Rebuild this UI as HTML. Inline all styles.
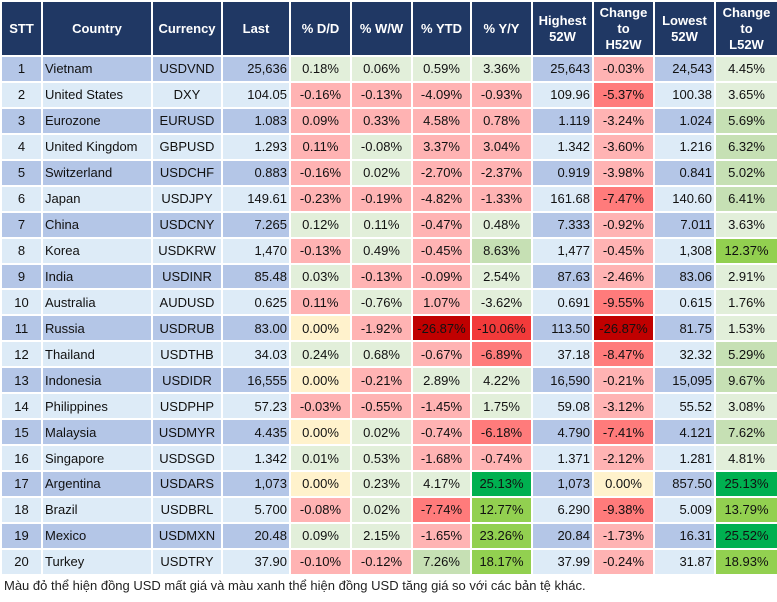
<!DOCTYPE html>
<html><head><meta charset="utf-8"><style>
body{margin:0;background:#fff;width:777px;height:602px;overflow:hidden;font-family:"Liberation Sans",Arial,sans-serif;}
table{position:absolute;left:0;top:0;border-collapse:collapse;table-layout:fixed;width:777px;}
td,th{border:2px solid #fff;padding:0 2px;font-size:13px;color:#111;white-space:nowrap;overflow:hidden;}
th{background:#203864;color:#fff;font-weight:bold;height:53px;line-height:16px;text-align:center;}
td{height:23.95px;}
tr.o td{background:#B4C6E7}tr.e td{background:#DDEBF7}
td.c{text-align:center}td.r{text-align:right}td.l{text-align:left}
tr td.g{background:#E2EFDA}tr td.x{background:#FFB3B3}tr td.R{background:#FF7B7B}tr td.m{background:#C6E0B4}
tr td.G{background:#92D050}tr td.D{background:#00B050}tr td.y{background:#FFF2CC}tr td.X{background:#C00000}tr td.Z{background:#F23A3A}
td.p{text-align:center}
.foot{position:absolute;left:4px;top:578px;font-size:13px;color:#222;}
</style></head><body>
<table>
<colgroup><col style="width:41px"><col style="width:110px"><col style="width:70px"><col style="width:68px"><col style="width:61px"><col style="width:61px"><col style="width:59px"><col style="width:61px"><col style="width:61px"><col style="width:61px"><col style="width:61px"><col style="width:63px"></colgroup>
<tr><th>STT</th><th>Country</th><th>Currency</th><th>Last</th><th>% D/D</th><th>% W/W</th><th>% YTD</th><th>% Y/Y</th><th>Highest<br>52W</th><th>Change<br>to<br>H52W</th><th>Lowest<br>52W</th><th>Change<br>to<br>L52W</th></tr>
<tr class="o"><td class="c">1</td><td class="l">Vietnam</td><td class="c">USDVND</td><td class="r">25,636</td><td class="p g">0.18%</td><td class="p g">0.06%</td><td class="p g">0.59%</td><td class="p g">3.36%</td><td class="r">25,643</td><td class="p x">-0.03%</td><td class="r">24,543</td><td class="p g">4.45%</td></tr>
<tr class="e"><td class="c">2</td><td class="l">United States</td><td class="c">DXY</td><td class="r">104.05</td><td class="p x">-0.16%</td><td class="p x">-0.13%</td><td class="p x">-4.09%</td><td class="p x">-0.93%</td><td class="r">109.96</td><td class="p R">-5.37%</td><td class="r">100.38</td><td class="p g">3.65%</td></tr>
<tr class="o"><td class="c">3</td><td class="l">Eurozone</td><td class="c">EURUSD</td><td class="r">1.083</td><td class="p x">0.09%</td><td class="p x">0.33%</td><td class="p x">4.58%</td><td class="p x">0.78%</td><td class="r">1.119</td><td class="p x">-3.24%</td><td class="r">1.024</td><td class="p m">5.69%</td></tr>
<tr class="e"><td class="c">4</td><td class="l">United Kingdom</td><td class="c">GBPUSD</td><td class="r">1.293</td><td class="p x">0.11%</td><td class="p g">-0.08%</td><td class="p x">3.37%</td><td class="p x">3.04%</td><td class="r">1.342</td><td class="p x">-3.60%</td><td class="r">1.216</td><td class="p m">6.32%</td></tr>
<tr class="o"><td class="c">5</td><td class="l">Switzerland</td><td class="c">USDCHF</td><td class="r">0.883</td><td class="p x">-0.16%</td><td class="p g">0.02%</td><td class="p x">-2.70%</td><td class="p x">-2.37%</td><td class="r">0.919</td><td class="p x">-3.98%</td><td class="r">0.841</td><td class="p m">5.02%</td></tr>
<tr class="e"><td class="c">6</td><td class="l">Japan</td><td class="c">USDJPY</td><td class="r">149.61</td><td class="p x">-0.23%</td><td class="p x">-0.19%</td><td class="p x">-4.82%</td><td class="p x">-1.33%</td><td class="r">161.68</td><td class="p R">-7.47%</td><td class="r">140.60</td><td class="p m">6.41%</td></tr>
<tr class="o"><td class="c">7</td><td class="l">China</td><td class="c">USDCNY</td><td class="r">7.265</td><td class="p g">0.12%</td><td class="p g">0.11%</td><td class="p x">-0.47%</td><td class="p g">0.48%</td><td class="r">7.333</td><td class="p x">-0.92%</td><td class="r">7.011</td><td class="p g">3.63%</td></tr>
<tr class="e"><td class="c">8</td><td class="l">Korea</td><td class="c">USDKRW</td><td class="r">1,470</td><td class="p x">-0.13%</td><td class="p g">0.49%</td><td class="p x">-0.45%</td><td class="p m">8.63%</td><td class="r">1,477</td><td class="p x">-0.45%</td><td class="r">1,308</td><td class="p G">12.37%</td></tr>
<tr class="o"><td class="c">9</td><td class="l">India</td><td class="c">USDINR</td><td class="r">85.48</td><td class="p g">0.03%</td><td class="p x">-0.13%</td><td class="p x">-0.09%</td><td class="p g">2.54%</td><td class="r">87.63</td><td class="p x">-2.46%</td><td class="r">83.06</td><td class="p g">2.91%</td></tr>
<tr class="e"><td class="c">10</td><td class="l">Australia</td><td class="c">AUDUSD</td><td class="r">0.625</td><td class="p x">0.11%</td><td class="p g">-0.76%</td><td class="p x">1.07%</td><td class="p g">-3.62%</td><td class="r">0.691</td><td class="p R">-9.55%</td><td class="r">0.615</td><td class="p g">1.76%</td></tr>
<tr class="o"><td class="c">11</td><td class="l">Russia</td><td class="c">USDRUB</td><td class="r">83.00</td><td class="p y">0.00%</td><td class="p x">-1.92%</td><td class="p X">-26.87%</td><td class="p Z">-10.06%</td><td class="r">113.50</td><td class="p X">-26.87%</td><td class="r">81.75</td><td class="p g">1.53%</td></tr>
<tr class="e"><td class="c">12</td><td class="l">Thailand</td><td class="c">USDTHB</td><td class="r">34.03</td><td class="p g">0.24%</td><td class="p g">0.68%</td><td class="p x">-0.67%</td><td class="p R">-6.89%</td><td class="r">37.18</td><td class="p R">-8.47%</td><td class="r">32.32</td><td class="p m">5.29%</td></tr>
<tr class="o"><td class="c">13</td><td class="l">Indonesia</td><td class="c">USDIDR</td><td class="r">16,555</td><td class="p y">0.00%</td><td class="p x">-0.21%</td><td class="p g">2.89%</td><td class="p g">4.22%</td><td class="r">16,590</td><td class="p x">-0.21%</td><td class="r">15,095</td><td class="p m">9.67%</td></tr>
<tr class="e"><td class="c">14</td><td class="l">Philippines</td><td class="c">USDPHP</td><td class="r">57.23</td><td class="p x">-0.03%</td><td class="p x">-0.55%</td><td class="p x">-1.45%</td><td class="p g">1.75%</td><td class="r">59.08</td><td class="p x">-3.12%</td><td class="r">55.52</td><td class="p g">3.08%</td></tr>
<tr class="o"><td class="c">15</td><td class="l">Malaysia</td><td class="c">USDMYR</td><td class="r">4.435</td><td class="p y">0.00%</td><td class="p g">0.02%</td><td class="p x">-0.74%</td><td class="p R">-6.18%</td><td class="r">4.790</td><td class="p R">-7.41%</td><td class="r">4.121</td><td class="p m">7.62%</td></tr>
<tr class="e"><td class="c">16</td><td class="l">Singapore</td><td class="c">USDSGD</td><td class="r">1.342</td><td class="p g">0.01%</td><td class="p g">0.53%</td><td class="p x">-1.68%</td><td class="p x">-0.74%</td><td class="r">1.371</td><td class="p x">-2.12%</td><td class="r">1.281</td><td class="p g">4.81%</td></tr>
<tr class="o"><td class="c">17</td><td class="l">Argentina</td><td class="c">USDARS</td><td class="r">1,073</td><td class="p y">0.00%</td><td class="p g">0.23%</td><td class="p g">4.17%</td><td class="p D">25.13%</td><td class="r">1,073</td><td class="p y">0.00%</td><td class="r">857.50</td><td class="p D">25.13%</td></tr>
<tr class="e"><td class="c">18</td><td class="l">Brazil</td><td class="c">USDBRL</td><td class="r">5.700</td><td class="p x">-0.08%</td><td class="p g">0.02%</td><td class="p R">-7.74%</td><td class="p G">12.77%</td><td class="r">6.290</td><td class="p R">-9.38%</td><td class="r">5.009</td><td class="p G">13.79%</td></tr>
<tr class="o"><td class="c">19</td><td class="l">Mexico</td><td class="c">USDMXN</td><td class="r">20.48</td><td class="p g">0.09%</td><td class="p g">2.15%</td><td class="p x">-1.65%</td><td class="p G">23.26%</td><td class="r">20.84</td><td class="p x">-1.73%</td><td class="r">16.31</td><td class="p D">25.52%</td></tr>
<tr class="e"><td class="c">20</td><td class="l">Turkey</td><td class="c">USDTRY</td><td class="r">37.90</td><td class="p x">-0.10%</td><td class="p x">-0.12%</td><td class="p m">7.26%</td><td class="p G">18.17%</td><td class="r">37.99</td><td class="p x">-0.24%</td><td class="r">31.87</td><td class="p G">18.93%</td></tr>
</table>
<div class="foot">Màu đỏ thể hiện đồng USD mất giá và màu xanh thể hiện đồng USD tăng giá so với các bản tệ khác.</div>
</body></html>
